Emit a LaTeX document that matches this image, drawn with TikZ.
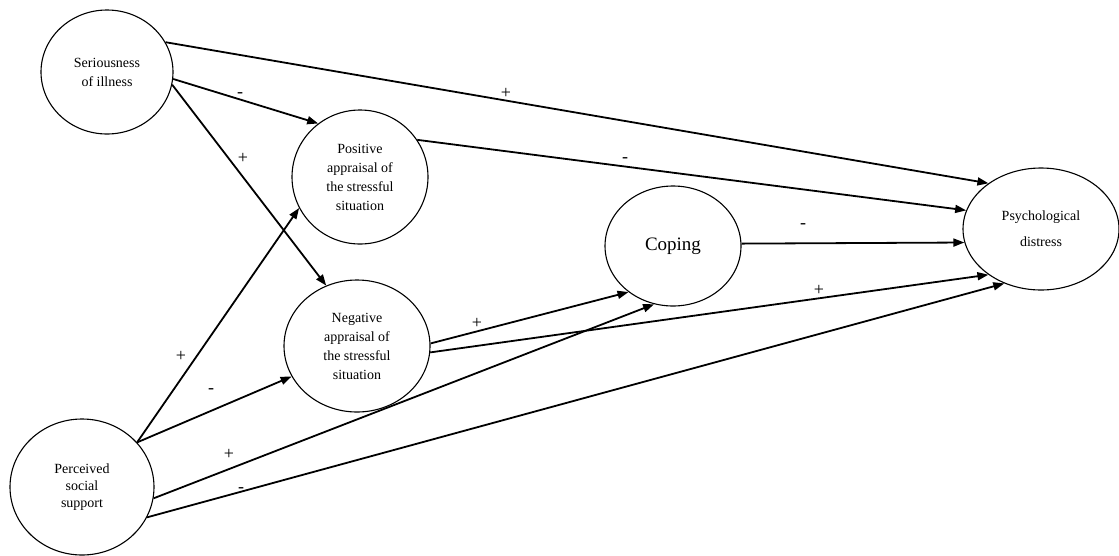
\documentclass[tikz,border=0pt]{standalone}
\usepackage{fontspec}
\setmainfont{Liberation Serif}
\usetikzlibrary{shapes.geometric,arrows.meta}

\tikzset{
  var/.style={draw, ellipse, line width=1.1pt, inner sep=0pt, align=center,
    font=\fontsize{14}{19}\selectfont},
  path/.style={line width=1.8pt, -{Triangle[length=11pt,width=8pt]}},
  sign/.style={inner sep=0pt, font=\fontsize{18}{20}\selectfont}
}

\begin{document}
\begin{tikzpicture}[x=1pt,y=-1pt]
\useasboundingbox (0,0) rectangle (1119,555);

% latent variables
\node[var, minimum width=132pt, minimum height=124pt] (ser) at (107,72) {Seriousness\\of illness};
\node[var, minimum width=136pt, minimum height=134pt] (pos) at (360,177) {Positive\\appraisal of\\the stressful\\situation};
\node[var, minimum width=146pt, minimum height=132pt] (neg) at (357,346) {Negative\\appraisal of\\the stressful\\situation};
\node[var, minimum width=136pt, minimum height=120pt, font=\fontsize{19}{22}\selectfont] (cop) at (673,246) {Coping};
\node[var, minimum width=156pt, minimum height=122pt] (psy) at (1041,229) {Psychological\\[7pt]distress};
\node[var, minimum width=144pt, minimum height=136pt, font=\fontsize{14}{17}\selectfont] (per) at (82,487) {Perceived\\social\\support};

% paths
\draw[path] (ser.27)  -- (psy.139);
\draw[path] (ser.-6)  -- (pos.128);
\draw[path] (ser.-11) -- (neg.117);
\draw[path] (pos.33)  -- (psy.166);
\draw[path] (neg.2)   -- (cop.226);
\draw[path] (neg.-5)  -- (psy.221);
\draw[path] (cop.2.5) -- (psy.190);
\coordinate (perout) at (per.39);
\draw[path] (perout)  -- (pos.207);
\draw[path] (perout)  -- (neg.205);
\draw[path] (per.-9)  -- (cop.252);
\draw[path] (per.-25) -- (psy.236);

% signs of the effects
\node[sign] (s1)  at (506,93)  {+};
\node[sign] (s2)  at (240,95)  {-};
\node[sign] (s3)  at (243,158) {+};
\node[sign] (s4)  at (625,160) {-};
\node[sign] (s5)  at (803,226) {-};
\node[sign] (s6)  at (819,290) {+};
\node[sign] (s7)  at (477,323) {+};
\node[sign] (s8)  at (181,356) {+};
\node[sign] (s9)  at (211,391) {-};
\node[sign] (s10) at (229,454) {+};
\node[sign] (s11) at (241,490) {-};
\end{tikzpicture}
\end{document}
